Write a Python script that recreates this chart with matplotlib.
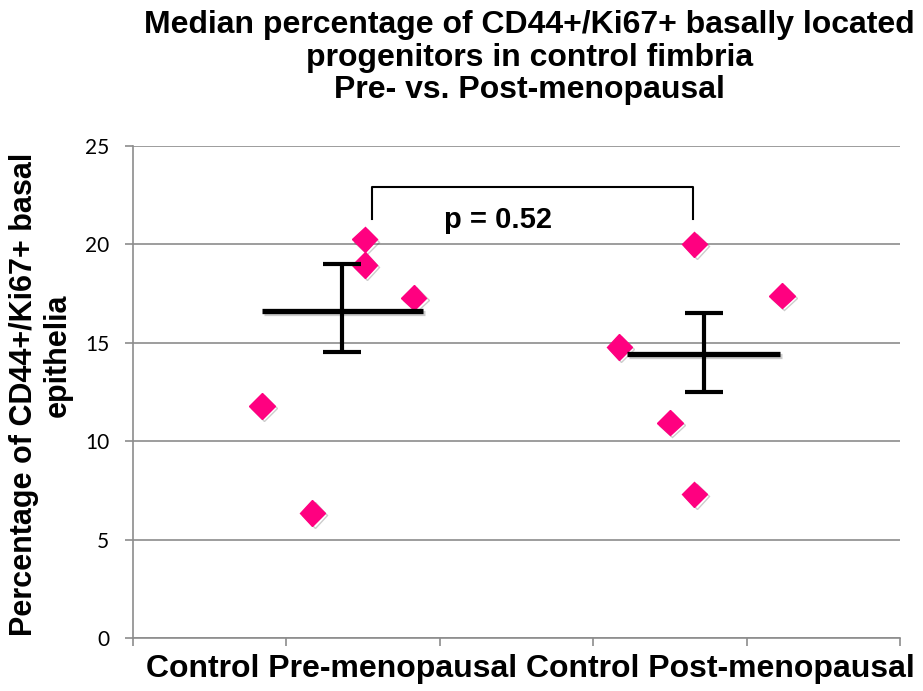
import matplotlib
matplotlib.use("Agg")
import matplotlib.pyplot as plt
import matplotlib.patheffects as pe

# scatter points
pre_x = [0.84, 1.17, 1.51, 1.51, 1.83]
pre_y = [11.8, 6.35, 20.25, 18.95, 17.3]
post_x = [3.17, 3.50, 3.66, 3.66, 4.23]
post_y = [14.8, 10.95, 20.0, 7.3, 17.4]

# median line and error bar for each group
pre_median = 16.6
pre_median_span = [0.84, 1.89]
pre_err_x = 1.36
pre_err_range = [14.55, 19.0]

post_median = 14.45
post_median_span = [3.22, 4.22]
post_err_x = 3.72
post_err_range = [12.5, 16.5]

# significance bracket
bracket_x = [1.56, 3.65]
bracket_y = [21.3, 22.9]
p_text = "p = 0.52"

yticks = [0, 5, 10, 15, 20, 25]

bold = ["Liberation Sans", "DejaVu Sans"]
shadow = [pe.SimpleLineShadow(offset=(1.5, -1.5), alpha=0.2), pe.Normal()]

fig = plt.figure(figsize=(9.23, 6.91), dpi=100)
ax = fig.add_axes([0.1441, 0.0767, 0.831, 0.712])

ax.plot(pre_x, pre_y, linestyle="none", marker="D", markersize=13,
        color="#FF0080", path_effects=shadow, zorder=3)
ax.plot(post_x, post_y, linestyle="none", marker="D", markersize=13,
        color="#FF0080", path_effects=shadow, zorder=3)

# medians with error bars
for span, med, ex, rng in [(pre_median_span, pre_median, pre_err_x, pre_err_range),
                           (post_median_span, post_median, post_err_x, post_err_range)]:
    ax.plot(span, [med, med], color="black", linewidth=3.8, solid_capstyle="butt",
            path_effects=shadow, zorder=4)
    ax.errorbar([ex], [med], yerr=[[med - rng[0]], [rng[1] - med]], fmt="none",
                ecolor="black", elinewidth=3, capsize=14, capthick=3, zorder=4)

# bracket
ax.plot([bracket_x[0], bracket_x[0], bracket_x[1], bracket_x[1]],
        [bracket_y[0], bracket_y[1], bracket_y[1], bracket_y[0]],
        color="black", linewidth=1.5, zorder=4)
ax.text(2.38, 21.25, p_text, ha="center", va="center",
        fontsize=21, fontweight="bold", family=bold)

ax.set_xlim(0, 5)
ax.set_ylim(0, 25)
ax.set_xticks(range(6))
ax.set_xticklabels([])
ax.set_yticks(yticks)
ax.set_yticklabels([str(v) for v in yticks], family=["Lato", "DejaVu Sans"], fontsize=15)
ax.grid(axis="y", color="#8c8c8c", linewidth=1.2)
ax.set_axisbelow(True)
for s in ["top", "right"]:
    ax.spines[s].set_visible(False)
for s in ["left", "bottom"]:
    ax.spines[s].set_color("#8c8c8c")
    ax.spines[s].set_linewidth(1.2)
ax.tick_params(axis="both", color="#8c8c8c", width=1.2, length=5.5)
ax.tick_params(axis="y", pad=11.5)

ax.set_xlabel("Control Pre-menopausal Control Post-menopausal", fontsize=23,
              fontweight="bold", family=bold)
ax.xaxis.set_label_coords(0.5176, -0.062, transform=ax.transAxes)
ax.xaxis.label.set_va("center")

# y axis title, two wrapped lines
ax.text(-0.1421, 0.496, "Percentage of CD44+/Ki67+ basal", transform=ax.transAxes,
        rotation=90, ha="center", va="center", fontsize=22, fontweight="bold",
        family=bold)
ax.text(-0.0978, 0.575, "epithelia", transform=ax.transAxes,
        rotation=90, ha="center", va="center", fontsize=22, fontweight="bold",
        family=bold)

fig.text(0.574, 0.985, "Median percentage of CD44+/Ki67+ basally located\n"
         "progenitors in control fimbria\nPre- vs. Post-menopausal",
         ha="center", va="top", fontsize=23, fontweight="bold", family=bold,
         linespacing=1.1)

plt.savefig("out.png", dpi=100)
